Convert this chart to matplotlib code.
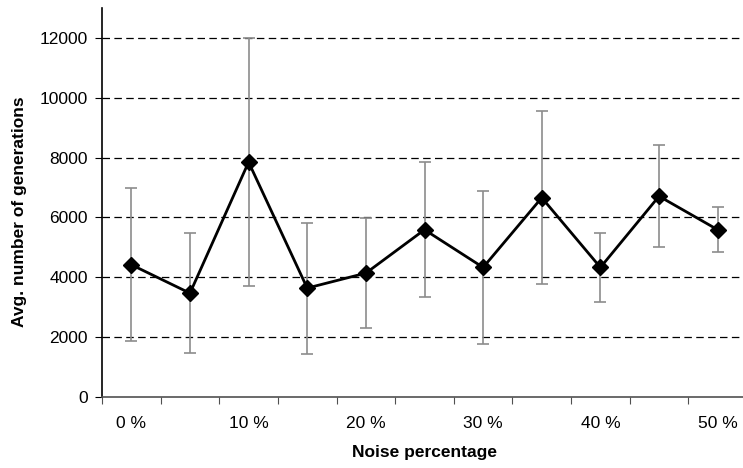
import numpy as np
import matplotlib
matplotlib.use('Agg')
import matplotlib.pyplot as plt

plt.rcParams['font.family'] = ['Liberation Sans', 'DejaVu Sans']

# noise levels 0 %, 5 %, ..., 50 %
noise = [0, 5, 10, 15, 20, 25, 30, 35, 40, 45, 50]
avg_gen = [4420, 3470, 7850, 3640, 4140, 5590, 4330, 6660, 4330, 6710, 5590]
std_gen = [2560, 2000, 4140, 2190, 1830, 2260, 2560, 2890, 1155, 1700, 750]
tick_labels = ['0 %', '10 %', '20 %', '30 %', '40 %', '50 %']
y_ticks = [0, 2000, 4000, 6000, 8000, 10000, 12000]

fig = plt.figure(figsize=(7.43, 4.68), dpi=100)
ax = fig.add_axes([102 / 743, 71 / 468, 645 / 743, 389 / 468])

x = np.arange(len(noise))
ax.errorbar(x, avg_gen, yerr=std_gen, fmt='none', ecolor='#8c8c8c',
            elinewidth=1.2, capsize=4.3, capthick=1.2, zorder=2)
ax.plot(x, avg_gen, color='black', linewidth=2, marker='D',
        markersize=8, zorder=3)

ax.set_xlim(-0.5, len(noise) - 0.5)
ax.set_ylim(0, 13000)
ax.set_yticks(y_ticks)
ax.set_yticklabels([str(v) for v in y_ticks], fontsize=12.5)

# tick marks between categories, labels on every other category
ax.set_xticks(np.arange(-0.5, len(noise), 1.0))
ax.set_xticklabels([])
ax.set_xticks(x[::2], minor=True)
ax.set_xticklabels(tick_labels, minor=True, fontsize=12.5)
ax.tick_params(axis='x', which='major', length=5, direction='out', color='#505050')
ax.tick_params(axis='x', which='minor', length=0, pad=14)
ax.tick_params(axis='y', length=5, direction='out', pad=5)

for v in y_ticks[1:]:
    ax.axhline(v, color='black', linewidth=0.9, linestyle=(0, (6, 3.5)), zorder=1)

for s in ['top', 'right']:
    ax.spines[s].set_visible(False)
ax.spines['left'].set_color('black')
ax.spines['bottom'].set_color('#505050')
ax.spines['left'].set_linewidth(1.2)
ax.spines['bottom'].set_linewidth(1.2)

fig.text(20 / 743, 1 - 212 / 468, 'Avg. number of generations', fontsize=12.5,
         fontweight='bold', rotation=90, ha='center', va='center')
fig.text(424 / 743, 1 - 453 / 468, 'Noise percentage', fontsize=12.5,
         fontweight='bold', ha='center', va='center')

fig.savefig('out.png', dpi=100)
